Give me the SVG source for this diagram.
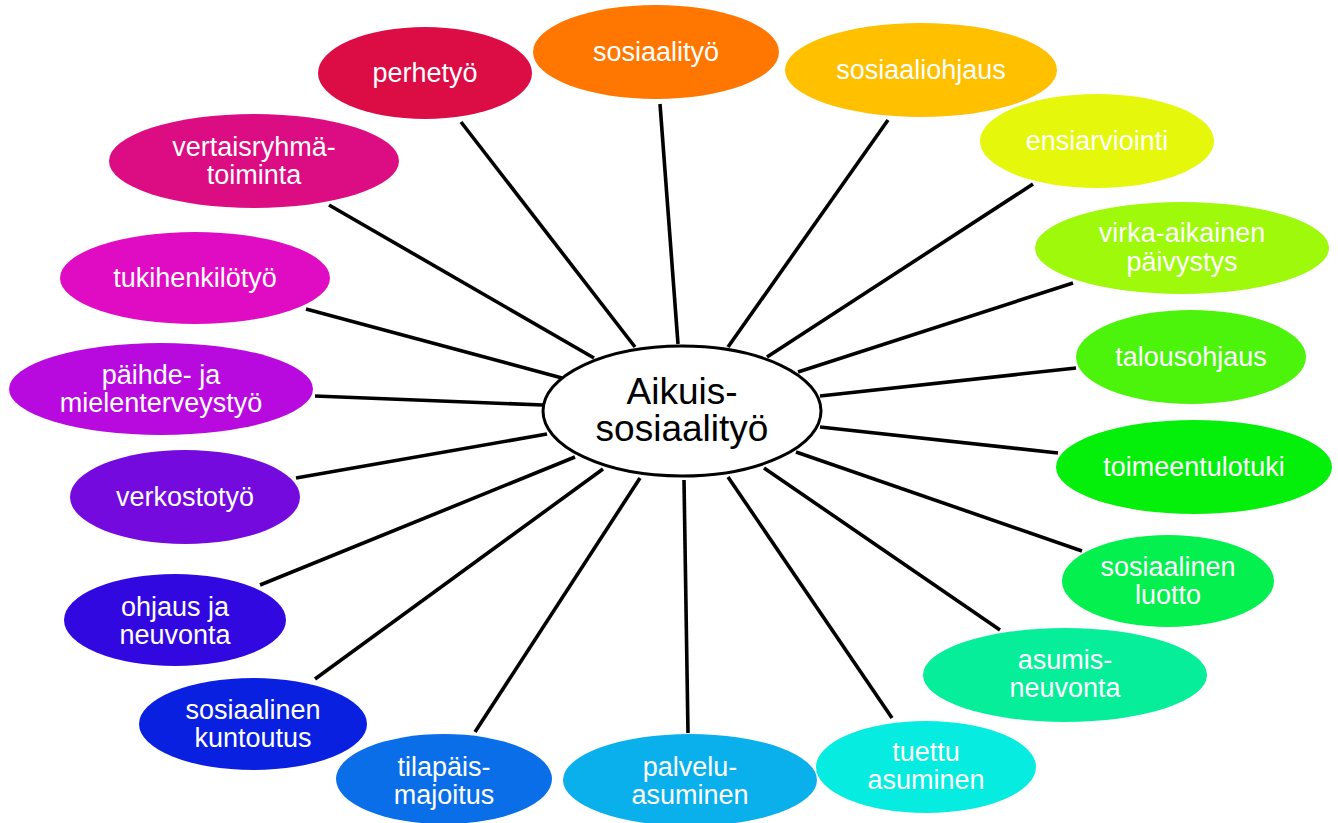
<svg xmlns="http://www.w3.org/2000/svg" width="1338" height="823" viewBox="0 0 1338 823">
<style>
.c{stroke:#000;stroke-width:3.6;stroke-linecap:butt}
.n{stroke:none}
.t{font-family:"Liberation Sans",Arial,sans-serif;font-size:27px;fill:#fff;text-anchor:middle}
.m{font-family:"Liberation Sans",Arial,sans-serif;font-size:37px;fill:#000;text-anchor:middle}
</style>
<rect width="1338" height="823" fill="#fff"/>
<g id="connectors" class="c">
<line x1="461" y1="122" x2="635" y2="347"/>
<line x1="329" y1="205" x2="594" y2="358"/>
<line x1="306" y1="309" x2="562" y2="378"/>
<line x1="315" y1="396" x2="543" y2="405"/>
<line x1="660" y1="104" x2="678" y2="344"/>
<line x1="888" y1="120" x2="728" y2="347"/>
<line x1="1033" y1="184" x2="767" y2="357"/>
<line x1="1073" y1="283" x2="798" y2="372"/>
<line x1="1076" y1="368" x2="820" y2="396"/>
<line x1="296" y1="478" x2="547" y2="434"/>
<line x1="260" y1="585" x2="575" y2="457"/>
<line x1="315" y1="679" x2="603" y2="469"/>
<line x1="475" y1="732" x2="640" y2="478"/>
<line x1="820" y1="427" x2="1058" y2="453"/>
<line x1="796" y1="452" x2="1082" y2="551"/>
<line x1="764" y1="468" x2="1000" y2="630"/>
<line x1="728" y1="477" x2="892" y2="718"/>
<line x1="684" y1="480" x2="688" y2="733"/>
</g>
<g id="n-perhetyo"><ellipse class="n" cx="425" cy="73" rx="107" ry="46" fill="#DC0C45"/><text class="t" x="425" y="82">perhetyö</text></g>
<g id="n-sosiaalityo"><ellipse class="n" cx="656" cy="52" rx="123" ry="47" fill="#FF7700"/><text class="t" x="656" y="61">sosiaalityö</text></g>
<g id="n-sosiaaliohjaus"><ellipse class="n" cx="921" cy="70" rx="136" ry="47" fill="#FFC000"/><text class="t" x="921" y="79">sosiaaliohjaus</text></g>
<g id="n-ensiarviointi"><ellipse class="n" cx="1097" cy="141" rx="117" ry="47" fill="#E5F80B"/><text class="t" x="1097" y="150">ensiarviointi</text></g>
<g id="n-virka"><ellipse class="n" cx="1182" cy="248" rx="147" ry="46" fill="#9EF90A"/><text class="t" x="1182" y="242">virka-aikainen</text><text class="t" x="1182" y="271">päivystys</text></g>
<g id="n-talousohjaus"><ellipse class="n" cx="1191" cy="357" rx="115" ry="47" fill="#4CF40C"/><text class="t" x="1191" y="366">talousohjaus</text></g>
<g id="n-toimeentulotuki"><ellipse class="n" cx="1194" cy="467" rx="138" ry="47" fill="#04F00A"/><text class="t" x="1194" y="476">toimeentulotuki</text></g>
<g id="n-luotto"><ellipse class="n" cx="1168" cy="581" rx="106" ry="46" fill="#04F04E"/><text class="t" x="1168" y="576">sosiaalinen</text><text class="t" x="1168" y="604">luotto</text></g>
<g id="n-asumisneuvonta"><ellipse class="n" cx="1065" cy="675" rx="142" ry="47" fill="#06EE9A"/><text class="t" x="1065" y="669">asumis-</text><text class="t" x="1065" y="697">neuvonta</text></g>
<g id="n-tuettu"><ellipse class="n" cx="926" cy="767" rx="110" ry="46" fill="#06ECE0"/><text class="t" x="926" y="761">tuettu</text><text class="t" x="926" y="789">asuminen</text></g>
<g id="n-palvelu"><ellipse class="n" cx="690" cy="780" rx="127" ry="46" fill="#0AB0EC"/><text class="t" x="690" y="776">palvelu-</text><text class="t" x="690" y="804">asuminen</text></g>
<g id="n-tilapais"><ellipse class="n" cx="444" cy="779" rx="108" ry="45" fill="#0A6EE8"/><text class="t" x="444" y="776">tilapäis-</text><text class="t" x="444" y="804">majoitus</text></g>
<g id="n-kuntoutus"><ellipse class="n" cx="253" cy="724" rx="114" ry="46" fill="#0A20E0"/><text class="t" x="253" y="719">sosiaalinen</text><text class="t" x="253" y="747">kuntoutus</text></g>
<g id="n-ohjaus"><ellipse class="n" cx="175" cy="620" rx="111" ry="46" fill="#3208E0"/><text class="t" x="175" y="616">ohjaus ja</text><text class="t" x="175" y="644">neuvonta</text></g>
<g id="n-verkostotyo"><ellipse class="n" cx="185" cy="497" rx="115" ry="47" fill="#740ADE"/><text class="t" x="185" y="506">verkostotyö</text></g>
<g id="n-paihde"><ellipse class="n" cx="161" cy="389" rx="152" ry="46" fill="#B80ADF"/><text class="t" x="161" y="384">päihde- ja</text><text class="t" x="161" y="412">mielenterveystyö</text></g>
<g id="n-tukihenkilotyo"><ellipse class="n" cx="195" cy="278" rx="135" ry="46" fill="#E00CC4"/><text class="t" x="195" y="287">tukihenkilötyö</text></g>
<g id="n-vertais"><ellipse class="n" cx="254" cy="161" rx="145" ry="47" fill="#DC0C82"/><text class="t" x="254" y="156">vertaisryhmä-</text><text class="t" x="254" y="184">toiminta</text></g>
<g id="n-center"><ellipse cx="682" cy="411" rx="139" ry="65" fill="#fff" stroke="#000" stroke-width="3"/><text class="m" x="682" y="404">Aikuis-</text><text class="m" x="682" y="441">sosiaalityö</text></g>
</svg>
